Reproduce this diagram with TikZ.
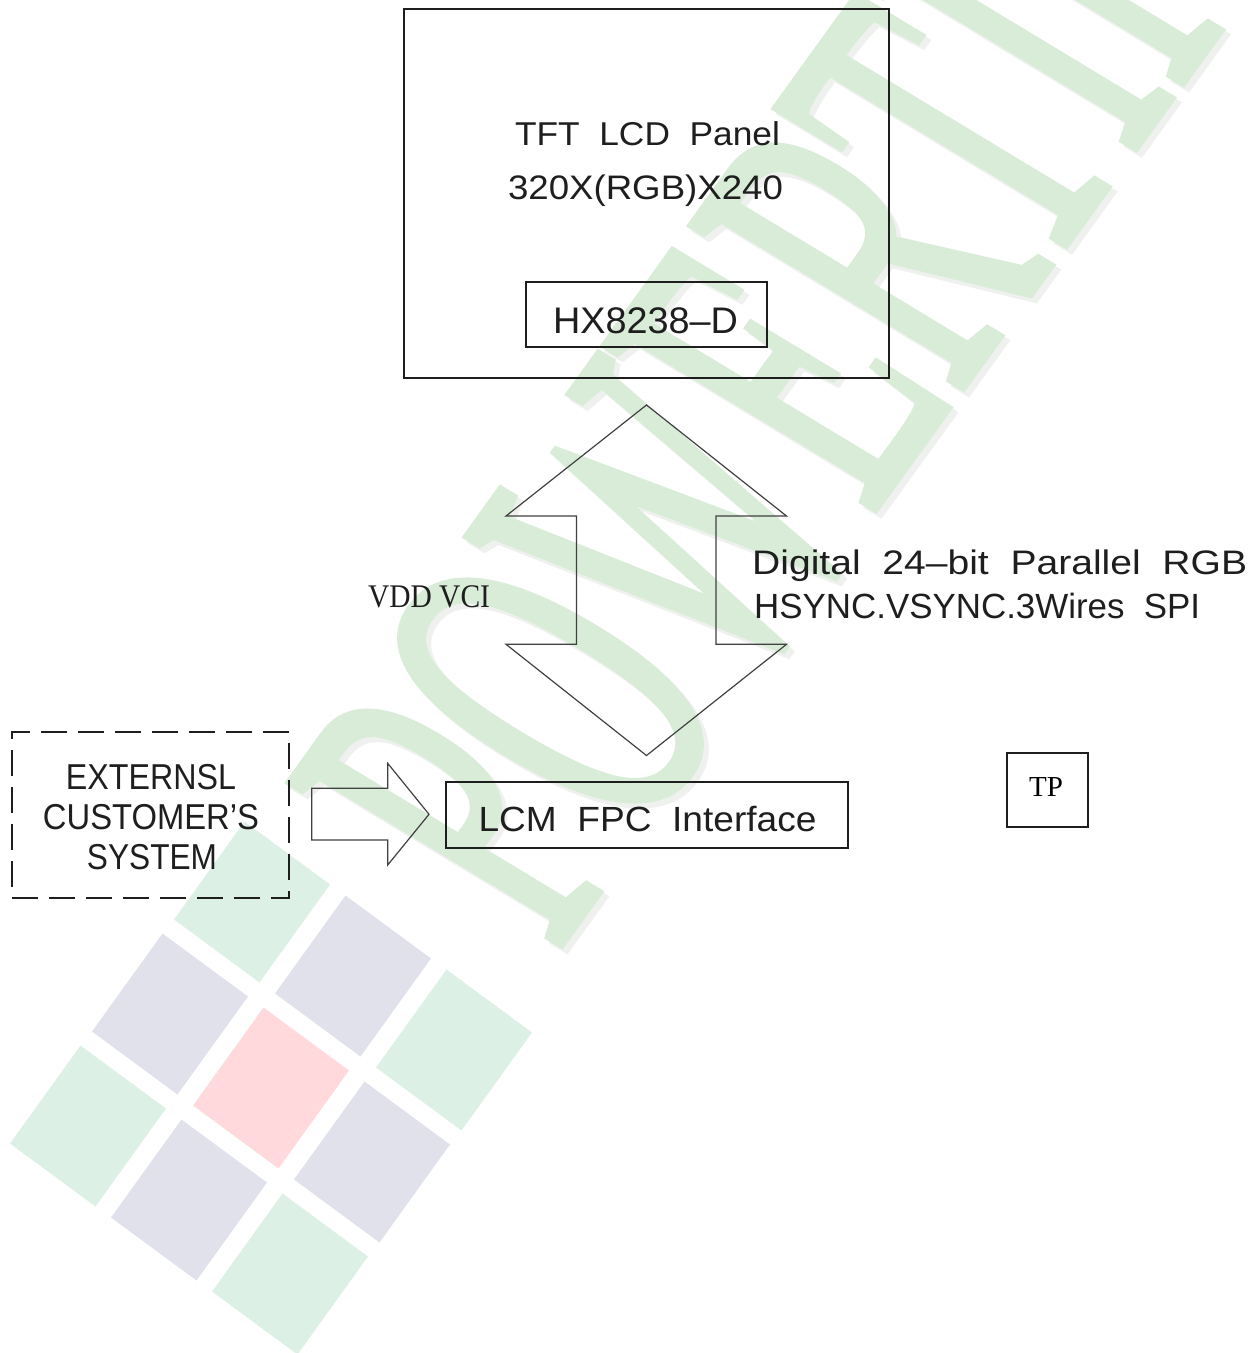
\documentclass[tikz,border=0pt]{standalone}
\usepackage{fontspec}
\usepackage{graphicx}
\setmainfont{Liberation Sans}
\newfontfamily\serifx{Liberation Serif}
\newfontfamily\wmfont[FakeBold=2]{Liberation Serif}
\definecolor{wmgreen}{RGB}{217,236,216}
\definecolor{wmshade}{RGB}{239,241,239}
\definecolor{sqgreen}{RGB}{221,240,230}
\definecolor{sqlav}{RGB}{225,225,236}
\definecolor{sqpink}{RGB}{255,217,219}
\definecolor{ink}{RGB}{30,30,30}
\newcommand{\fw}[2]{\resizebox{#1}{\height}{#2}}
\newcommand{\wsq}[3]{\fill[#1] (#2,#3) ++(-7.5,-80.5) -- ++(85.5,63) -- ++(-70.5,98) -- ++(-85.5,-63) -- cycle;}
\tikzset{
  blk/.style={draw=ink, line width=1.8pt, rectangle, inner sep=0pt},
  cadtxt/.style={inner sep=0pt, text=ink, anchor=base},
  blockarrow/.style={draw=black!75, line width=1.2pt, line join=miter},
  wmtxt/.style={transform shape, anchor=base west, inner sep=0pt, font=\wmfont\fontsize{480}{480}\selectfont}
}
\begin{document}
\begin{tikzpicture}[x=1pt,y=-1pt]
\useasboundingbox (0,0) rectangle (1260,1353);
% ---- watermark ----
\begin{scope}[cm={0.2954,0.4096,-0.856,0.517,(559.7pt,-957pt)}]
  \node[wmtxt, text=wmshade] (wmshadow) at (0pt,0pt) {POWERTIP};
\end{scope}
\begin{scope}[cm={0.2954,0.4096,-0.856,0.517,(554.7pt,-952pt)}]
  \node[wmtxt, text=wmgreen] (wmtext) at (0pt,0pt) {POWERTIP};
\end{scope}
\wsq{sqpink}{271}{1088}
\wsq{sqlav}{353}{976}
\wsq{sqlav}{372}{1162}
\wsq{sqlav}{170}{1014}
\wsq{sqlav}{189}{1200}
\wsq{sqgreen}{454}{1050}
\wsq{sqgreen}{252}{902}
\wsq{sqgreen}{88}{1126}
\wsq{sqgreen}{290}{1274}
% ---- diagram ----
\node[blk, minimum width=485pt, minimum height=368.4pt] (panel) at (646.5,193.5) {};
\node[cadtxt, font=\fontsize{33}{38}\selectfont] (tft) at (647.5,145) {\fw{265pt}{TFT\ \ LCD\ \ Panel}};
\node[cadtxt, font=\fontsize{34}{38}\selectfont] (res) at (645.5,199.3) {\fw{275pt}{320X(RGB)X240}};
\node[blk, minimum width=240.7pt, minimum height=65.6pt] (hxbox) at (646.3,314.5) {};
\node[cadtxt, font=\fontsize{37}{40}\selectfont] (hx) at (645.5,333.3) {\fw{185pt}{HX8238–D}};
% double block arrow
\draw[blockarrow] (646.5,405) -- (786.5,516) -- (716,516) -- (716,644.3) -- (786.5,644.3)
  -- (646.5,755.5) -- (506,644.3) -- (576.5,644.3) -- (576.5,516) -- (506,516) -- cycle;
\node[cadtxt, anchor=base, font=\serifx\fontsize{33}{36}\selectfont] (vdd) at (429,607.3) {\fw{122pt}{VDD VCI}};
\node[cadtxt, anchor=base west, font=\fontsize{34}{38}\selectfont] (dig1) at (752,574) {\fw{495pt}{Digital\ \ 24–bit\ \ Parallel\ \ RGB}};
\node[cadtxt, anchor=base west, font=\fontsize{35}{38}\selectfont] (dig2) at (754,618.3) {\fw{446pt}{HSYNC.VSYNC.3Wires\ \ SPI}};
% external system
\node[draw=ink, line width=1.9pt, dash pattern=on 26pt off 11pt, minimum width=277.4pt, minimum height=166.6pt, inner sep=0pt] (ext) at (150.7,815) {};
\node[cadtxt, font=\fontsize{36}{40}\selectfont] (ext1) at (151,789) {\fw{170pt}{EXTERNSL}};
\node[cadtxt, font=\fontsize{36}{40}\selectfont] (ext2) at (151,829) {\fw{216pt}{CUSTOMER’S}};
\node[cadtxt, font=\fontsize{36}{40}\selectfont] (ext3) at (152,869) {\fw{130pt}{SYSTEM}};
% right block arrow
\draw[blockarrow] (311.7,788.3) -- (387.7,788.3) -- (387.7,763.3) -- (429,814.3)
  -- (387.7,865) -- (387.7,840) -- (311.7,840) -- cycle;
% LCM FPC interface
\node[blk, line width=2pt, minimum width=402pt, minimum height=66pt] (lcm) at (647,815.3) {};
\node[cadtxt, anchor=base west, font=\fontsize{35}{38}\selectfont] (lcmtxt) at (478.3,831.7) {\fw{338pt}{LCM\ \ FPC\ \ Interface}};
% TP
\node[blk, minimum width=81.6pt, minimum height=74.6pt] (tpbox) at (1047.5,790) {};
\node[cadtxt, font=\serifx\fontsize{29}{32}\selectfont, text=black] (tp) at (1046,796.7) {TP};
\end{tikzpicture}
\end{document}
